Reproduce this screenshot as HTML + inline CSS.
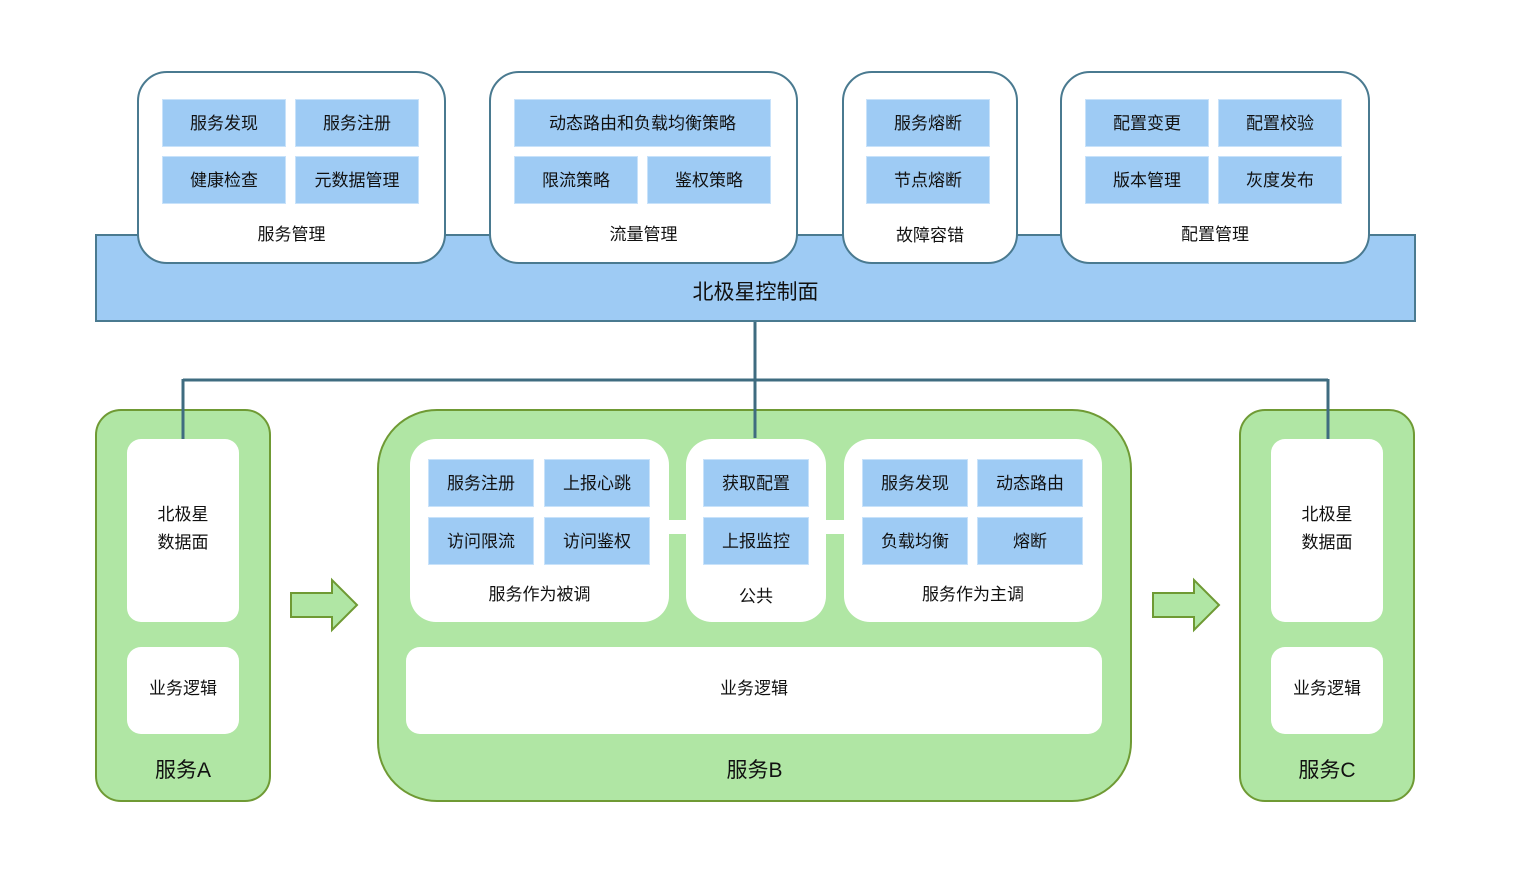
<!DOCTYPE html>
<html><head><meta charset="utf-8"><style>
body{margin:0;width:1518px;height:880px;background:#fff;position:relative;overflow:hidden;font-family:"Liberation Sans","Noto Sans CJK SC",sans-serif;color:#111}
div{position:absolute;box-sizing:border-box}
.w{background:#fff;border:2px solid #4a7a90;border-radius:30px}
.c{background:#9ecbf4;border:1px solid #c8e2fa;display:flex;align-items:center;justify-content:center;font-size:17px;padding-bottom:3px}
.t{font-size:17px;text-align:center}
.g{background:#b0e6a4;border:2px solid #6f9a34}
.iw{background:#fff;border-radius:14px;display:flex;align-items:center;justify-content:center;font-size:17px;text-align:center;line-height:28px}
.bar{background:#fff}
</style></head><body>
<div style="left:95px;top:234px;width:1321px;height:88px;background:#9ecbf4;border:2px solid #4a7a90"></div>
<div class="t" style="left:95px;top:276px;width:1321px;font-size:21px">北极星控制面</div>

<div class="w" style="left:137px;top:71px;width:309px;height:193px"></div>
<div class="c" style="left:162px;top:99px;width:124px;height:48px">服务发现</div>
<div class="c" style="left:295px;top:99px;width:124px;height:48px">服务注册</div>
<div class="c" style="left:162px;top:156px;width:124px;height:48px">健康检查</div>
<div class="c" style="left:295px;top:156px;width:124px;height:48px">元数据管理</div>
<div class="t" style="left:137px;top:220px;width:309px">服务管理</div>

<div class="w" style="left:489px;top:71px;width:309px;height:193px"></div>
<div class="c" style="left:514px;top:99px;width:257px;height:48px">动态路由和负载均衡策略</div>
<div class="c" style="left:514px;top:156px;width:124px;height:48px">限流策略</div>
<div class="c" style="left:647px;top:156px;width:124px;height:48px">鉴权策略</div>
<div class="t" style="left:489px;top:220px;width:309px">流量管理</div>

<div class="w" style="left:842px;top:71px;width:176px;height:193px"></div>
<div class="c" style="left:866px;top:99px;width:124px;height:48px">服务熔断</div>
<div class="c" style="left:866px;top:156px;width:124px;height:48px">节点熔断</div>
<div class="t" style="left:842px;top:221px;width:176px">故障容错</div>

<div class="w" style="left:1060px;top:71px;width:310px;height:193px"></div>
<div class="c" style="left:1085px;top:99px;width:124px;height:48px">配置变更</div>
<div class="c" style="left:1218px;top:99px;width:124px;height:48px">配置校验</div>
<div class="c" style="left:1085px;top:156px;width:124px;height:48px">版本管理</div>
<div class="c" style="left:1218px;top:156px;width:124px;height:48px">灰度发布</div>
<div class="t" style="left:1060px;top:220px;width:310px">配置管理</div>

<div class="g" style="left:95px;top:409px;width:176px;height:393px;border-radius:26px"></div>
<div class="iw" style="left:127px;top:439px;width:112px;height:183px;padding-bottom:3px">北极星<br>数据面</div>
<div class="iw" style="left:127px;top:647px;width:112px;height:87px;padding-bottom:3px">业务逻辑</div>
<div class="t" style="left:95px;top:754px;width:176px;font-size:21px">服务A</div>

<div class="g" style="left:377px;top:409px;width:755px;height:393px;border-radius:60px"></div>
<div class="bar" style="left:660px;top:520px;width:200px;height:14px"></div>
<div class="iw" style="left:410px;top:439px;width:259px;height:183px;border-radius:26px"></div>
<div class="iw" style="left:686px;top:439px;width:140px;height:183px;border-radius:26px"></div>
<div class="iw" style="left:844px;top:439px;width:258px;height:183px;border-radius:26px"></div>
<div class="c" style="left:428px;top:459px;width:106px;height:48px">服务注册</div>
<div class="c" style="left:544px;top:459px;width:106px;height:48px">上报心跳</div>
<div class="c" style="left:428px;top:517px;width:106px;height:48px">访问限流</div>
<div class="c" style="left:544px;top:517px;width:106px;height:48px">访问鉴权</div>
<div class="t" style="left:410px;top:580px;width:259px">服务作为被调</div>
<div class="c" style="left:703px;top:459px;width:106px;height:48px">获取配置</div>
<div class="c" style="left:703px;top:517px;width:106px;height:48px">上报监控</div>
<div class="t" style="left:686px;top:582px;width:140px">公共</div>
<div class="c" style="left:862px;top:459px;width:106px;height:48px">服务发现</div>
<div class="c" style="left:977px;top:459px;width:106px;height:48px">动态路由</div>
<div class="c" style="left:862px;top:517px;width:106px;height:48px">负载均衡</div>
<div class="c" style="left:977px;top:517px;width:106px;height:48px">熔断</div>
<div class="t" style="left:844px;top:580px;width:258px">服务作为主调</div>
<div class="iw" style="left:406px;top:647px;width:696px;height:87px;padding-bottom:3px">业务逻辑</div>
<div class="t" style="left:377px;top:754px;width:755px;font-size:21px">服务B</div>

<div class="g" style="left:1239px;top:409px;width:176px;height:393px;border-radius:26px"></div>
<div class="iw" style="left:1271px;top:439px;width:112px;height:183px;padding-bottom:3px">北极星<br>数据面</div>
<div class="iw" style="left:1271px;top:647px;width:112px;height:87px;padding-bottom:3px">业务逻辑</div>
<div class="t" style="left:1239px;top:754px;width:176px;font-size:21px">服务C</div>

<svg style="position:absolute;left:0;top:0" width="1518" height="880">
<g stroke="#3f6c80" stroke-width="3" fill="none">
<path d="M755 322V438M183 380H1328M183 379V439M1328 379V439"/>
</g>
<g fill="#b0e6a4" stroke="#6f9a34" stroke-width="2">
<path d="M291 593H332V580L357 605L332 630V617H291Z"/>
<path d="M1153 593H1194V580L1219 605L1194 630V617H1153Z"/>
</g>
</svg>
</body></html>
